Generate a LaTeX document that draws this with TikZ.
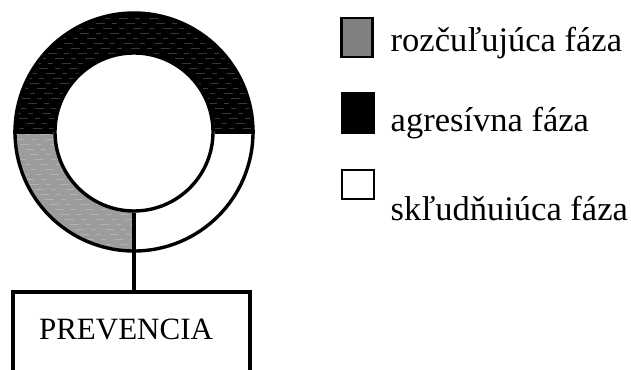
\documentclass[tikz,border=0pt]{standalone}
\usepackage{fontspec}
\setmainfont{Liberation Serif}
\begin{document}
\begin{tikzpicture}[x=1pt,y=1pt,line width=3.4pt,
  legtext/.style={anchor=base west,inner sep=0pt,font=\fontsize{34.5}{40}\selectfont},
  legbox/.style={draw,line width=2.4pt,inner sep=0pt},
  ringline/.style={draw,line width=3.4pt},
  streak/.style={line width=0.8pt,dash pattern=on 9pt off 7pt on 5pt off 9pt}]
\useasboundingbox (0,0) rectangle (631,369);
\clip (0,0) rectangle (631,369);
\coordinate (c) at (134,237);
% aggressive phase (top half)
\fill[black] (15,237) arc[start angle=180,end angle=0,radius=119] -- (213,237)
  arc[start angle=0,end angle=180,radius=79] -- cycle;
\begin{scope}
  \clip (15,237) arc[start angle=180,end angle=0,radius=119] -- cycle;
  \foreach \yy [count=\i] in {241,246,...,356} {
    \draw[streak,black!78,dash phase=\i*7pt] (10,\yy) -- (260,\yy);
  }
\end{scope}
% excitation phase (lower left quarter)
\fill[gray!78] (15,237) arc[start angle=180,end angle=270,radius=119] -- (134,158)
  arc[start angle=270,end angle=180,radius=79] -- cycle;
\begin{scope}
  \clip (15,237) arc[start angle=180,end angle=270,radius=119] -- (134,237) -- cycle;
  \foreach \yy [count=\i] in {120,125,...,236} {
    \draw[streak,gray!60,dash phase=\i*5pt] (10,\yy) -- (140,\yy);
  }
\end{scope}
\node[circle,ringline,minimum size=238pt,inner sep=0pt] (outer) at (c) {};
\node[circle,ringline,fill=white,minimum size=158pt,inner sep=0pt] (inner) at (c) {};
\draw (outer.west) -- (inner.west);
\draw (inner.east) -- (outer.east);
% box
\node[draw,line width=3.4pt,minimum width=237pt,minimum height=110pt,inner sep=0pt] (prev) at (131.5,22) {};
\node[anchor=base,inner sep=0pt,font=\fontsize{31}{36}\selectfont] (prevtext) at (126,29) {PREVENCIA};
\draw (inner.south) -- (inner.south |- prev.north);
% legend
\node[legbox,fill=gray,minimum width=31pt,minimum height=39pt] (lg1) at (357,331.5) {};
\node[legbox,fill=black,minimum width=32pt,minimum height=40pt] (lg2) at (358,256) {};
\node[legbox,fill=white,minimum width=32pt,minimum height=29pt] (lg3) at (358,184.5) {};
\node[legtext] (t1) at (389,317) {rozčuľujúca fáza};
\node[legtext] (t2) at (389,237) {agresívna fáza};
\node[legtext] (t3) at (389,148) {skľudňuiúca fáza};
\end{tikzpicture}
\end{document}
